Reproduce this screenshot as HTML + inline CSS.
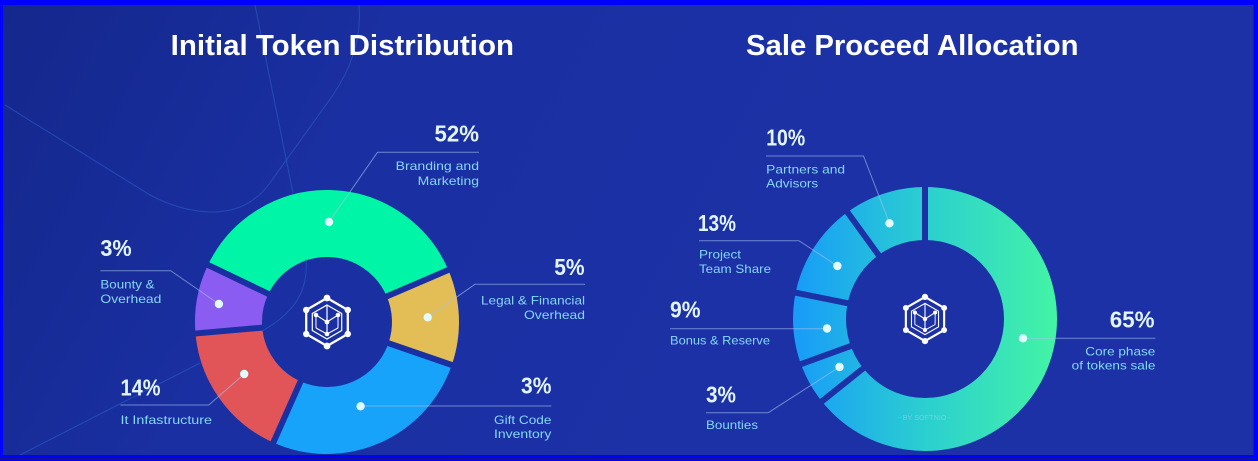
<!DOCTYPE html>
<html>
<head>
<meta charset="utf-8">
<style>
  html, body { margin:0; padding:0; background:#1b30a3; }
  svg { display:block; }
  .t { font-family:"Liberation Sans", sans-serif; font-weight:bold; fill:#ffffff; font-size:29px; }
  .p { font-family:"Liberation Sans", sans-serif; font-weight:bold; fill:#e2f5ff; font-size:23px; }
  .l { font-family:"Liberation Sans", sans-serif; fill:#86d8f6; font-size:12px; }
  .ld { stroke:#a9c3f0; stroke-opacity:0.6; stroke-width:1; fill:none; }
  .dot { fill:#e2fbff; }
  .deco { stroke:#2c60cc; stroke-opacity:0.55; stroke-width:1.1; fill:none; }
</style>
</head>
<body>
<svg width="1258" height="461" viewBox="0 0 1258 461" xmlns="http://www.w3.org/2000/svg">
  <defs>
    <linearGradient id="bg" x1="0" y1="0" x2="700" y2="380" gradientUnits="userSpaceOnUse">
      <stop offset="0" stop-color="#14278c"/>
      <stop offset="0.45" stop-color="#1a2fa1"/>
      <stop offset="1" stop-color="#1b31a5"/>
    </linearGradient>
    <linearGradient id="rg" x1="793" y1="0" x2="1057" y2="0" gradientUnits="userSpaceOnUse">
      <stop offset="0" stop-color="#179bf9"/>
      <stop offset="0.5" stop-color="#2bcfd0"/>
      <stop offset="1" stop-color="#43f4a5"/>
    </linearGradient>
    <g id="icon">
      <polygon points="0,-24 20.8,-12 20.8,12 0,24 -20.8,12 -20.8,-12" fill="none" stroke="#fff" stroke-width="2.3" stroke-linejoin="round"/>
      <polygon points="0,-17 14.7,-8.5 14.7,8.5 0,17 -14.7,8.5 -14.7,-8.5" fill="none" stroke="#fff" stroke-width="1.2"/>
      <line x1="0" y1="-17" x2="0" y2="0" stroke="#fff" stroke-width="1.2"/>
      <line x1="0" y1="0" x2="-11" y2="-7" stroke="#fff" stroke-width="1.2"/>
      <line x1="0" y1="0" x2="11" y2="-7" stroke="#fff" stroke-width="1.2"/>
      <line x1="0" y1="0" x2="0" y2="12" stroke="#fff" stroke-width="1.2"/>
      <line x1="-11" y1="-7" x2="-11" y2="6" stroke="#fff" stroke-width="1"/>
      <line x1="11" y1="-7" x2="11" y2="6" stroke="#fff" stroke-width="1"/>
      <line x1="-11" y1="6" x2="0" y2="12" stroke="#fff" stroke-width="1"/>
      <line x1="11" y1="6" x2="0" y2="12" stroke="#fff" stroke-width="1"/>
      <g fill="#fff">
        <circle cx="0" cy="-24" r="3.4"/>
        <circle cx="20.8" cy="-12" r="3.2"/>
        <circle cx="20.8" cy="12" r="3.2"/>
        <circle cx="0" cy="24" r="3.4"/>
        <circle cx="-20.8" cy="12" r="3.2"/>
        <circle cx="-20.8" cy="-12" r="3.2"/>
        <circle cx="0" cy="0" r="2.4"/>
        <circle cx="-11" cy="-7" r="2.3"/>
        <circle cx="11" cy="-7" r="2.3"/>
        <circle cx="0" cy="12" r="2.3"/>
      </g>
    </g>
  </defs>

  <!-- background -->
  <rect x="0" y="0" width="1258" height="461" fill="url(#bg)"/>

  <!-- decorative lines -->
  <path class="deco" d="M255,5 L293,193"/>
  <path class="deco" d="M359,5 C362,40 350,70 333,95 L272,180 Q250,213 210,212 Q180,211 150,195 L5,105"/>
  <path class="deco" d="M200,363 L20,455"/>

  <!-- LEFT DONUT -->
  <g fill="none" stroke-width="67">
    <path d="M238.17,279.44 A98.5,98.5 0 0 1 417.53,283.20" stroke="#00f6a6"/>
    <path d="M417.53,283.20 A98.5,98.5 0 0 1 420.13,354.07" stroke="#e3bd56"/>
    <path d="M420.13,354.07 A98.5,98.5 0 0 1 286.94,411.98" stroke="#18a3fb"/>
    <path d="M286.94,411.98 A98.5,98.5 0 0 1 228.87,330.59" stroke="#e15559"/>
    <path d="M228.87,330.59 A98.5,98.5 0 0 1 238.17,279.44" stroke="#8a5cf1"/>
  </g>
  <g stroke="url(#bg)" stroke-width="6">
    <line x1="272.89" y1="296.07" x2="203.45" y2="262.80"/>
    <line x1="382.15" y1="298.37" x2="452.92" y2="268.04"/>
    <line x1="383.73" y1="341.54" x2="456.53" y2="366.61"/>
    <line x1="302.60" y1="376.81" x2="271.28" y2="447.15"/>
    <line x1="267.23" y1="327.23" x2="190.52" y2="333.94"/>
  </g>
  <path class="deco" d="M306,259 C308,285 300,310 262,331"/>
  <use href="#icon" transform="translate(327,322)"/>

  <!-- RIGHT DONUT -->
  <circle cx="925" cy="319" r="105.5" fill="none" stroke="url(#rg)" stroke-width="53"/>
  <g stroke="url(#bg)" stroke-width="6">
    <line x1="925" y1="245" x2="925" y2="182"/>
    <line x1="867.17" y1="365.17" x2="817.93" y2="404.47"/>
    <line x1="855.46" y1="344.31" x2="796.26" y2="365.85"/>
    <line x1="852.49" y1="304.24" x2="790.75" y2="291.68"/>
    <line x1="881.50" y1="259.13" x2="844.47" y2="208.17"/>
  </g>
  <use href="#icon" transform="translate(925,319) scale(0.92)"/>
  <text x="898.3" y="420" font-family="Liberation Sans, sans-serif" font-size="7" fill="#a9c6f2" fill-opacity="0.65" textLength="52.4" lengthAdjust="spacingAndGlyphs">- BY SOFTNIO -</text>

  <!-- Titles -->
  <text class="t" x="170.7" y="55" textLength="343.3" lengthAdjust="spacingAndGlyphs">Initial Token Distribution</text>
  <text class="t" x="746" y="55" textLength="332.5" lengthAdjust="spacingAndGlyphs">Sale Proceed Allocation</text>

  <!-- leader lines left -->
  <polyline class="ld" points="329,222 377.5,152.3 479,152.3"/>
  <polyline class="ld" points="218.9,304 170.7,270.7 100.4,270.7"/>
  <polyline class="ld" points="427.7,317.3 475,284.3 585,284.3"/>
  <polyline class="ld" points="244.2,374 208.8,405 120.5,405"/>
  <polyline class="ld" points="360.6,406 551.4,406"/>
  <!-- leader lines right -->
  <polyline class="ld" points="889.5,223.3 863.5,156 766,156"/>
  <polyline class="ld" points="837.4,266 799,240.7 699,240.7"/>
  <polyline class="ld" points="827,328.7 670,328.7"/>
  <polyline class="ld" points="839.5,367 768.2,412.7 706,412.7"/>
  <polyline class="ld" points="1023,338.3 1155.4,338.3"/>

  <!-- dots -->
  <g class="dot">
    <circle cx="329" cy="222" r="4.2"/>
    <circle cx="218.9" cy="304" r="4.2"/>
    <circle cx="427.7" cy="317.3" r="4.2"/>
    <circle cx="244.2" cy="374" r="4.2"/>
    <circle cx="360.6" cy="406.3" r="4.2"/>
    <circle cx="889.5" cy="223.3" r="4.2"/>
    <circle cx="837.4" cy="266" r="4.2"/>
    <circle cx="827" cy="328.5" r="4.2"/>
    <circle cx="839.5" cy="367" r="4.2"/>
    <circle cx="1023" cy="338.3" r="4.2"/>
  </g>

  <!-- percentages -->
  <text class="p" x="434.5" y="141.7" textLength="44.5" lengthAdjust="spacingAndGlyphs">52%</text>
  <text class="p" x="100.4" y="256" textLength="31.3" lengthAdjust="spacingAndGlyphs">3%</text>
  <text class="p" x="554.2" y="275" textLength="30.4" lengthAdjust="spacingAndGlyphs">5%</text>
  <text class="p" x="120.5" y="395.7" textLength="40" lengthAdjust="spacingAndGlyphs">14%</text>
  <text class="p" x="521" y="393.3" textLength="30.4" lengthAdjust="spacingAndGlyphs">3%</text>
  <text class="p" x="766.2" y="145.7" textLength="39" lengthAdjust="spacingAndGlyphs">10%</text>
  <text class="p" x="698" y="231" textLength="38" lengthAdjust="spacingAndGlyphs">13%</text>
  <text class="p" x="670" y="317.3" textLength="30.5" lengthAdjust="spacingAndGlyphs">9%</text>
  <text class="p" x="706" y="402.7" textLength="30" lengthAdjust="spacingAndGlyphs">3%</text>
  <text class="p" x="1109.8" y="327.3" textLength="44.8" lengthAdjust="spacingAndGlyphs">65%</text>

  <!-- labels -->
  <text class="l" x="395.6" y="170" textLength="83.4" lengthAdjust="spacingAndGlyphs">Branding and</text>
  <text class="l" x="417.7" y="185" textLength="61.3" lengthAdjust="spacingAndGlyphs">Marketing</text>
  <text class="l" x="100.4" y="288.5" textLength="54.2" lengthAdjust="spacingAndGlyphs">Bounty &amp;</text>
  <text class="l" x="100.4" y="303" textLength="61" lengthAdjust="spacingAndGlyphs">Overhead</text>
  <text class="l" x="481" y="304.5" textLength="104" lengthAdjust="spacingAndGlyphs">Legal &amp; Financial</text>
  <text class="l" x="524" y="319" textLength="61" lengthAdjust="spacingAndGlyphs">Overhead</text>
  <text class="l" x="120.5" y="424" textLength="91.5" lengthAdjust="spacingAndGlyphs">It Infastructure</text>
  <text class="l" x="494" y="424" textLength="57.4" lengthAdjust="spacingAndGlyphs">Gift Code</text>
  <text class="l" x="494" y="438" textLength="57.4" lengthAdjust="spacingAndGlyphs">Inventory</text>
  <text class="l" x="766.2" y="173.5" textLength="78.9" lengthAdjust="spacingAndGlyphs">Partners and</text>
  <text class="l" x="766.2" y="187.5" textLength="52" lengthAdjust="spacingAndGlyphs">Advisors</text>
  <text class="l" x="699" y="258.5" textLength="42" lengthAdjust="spacingAndGlyphs">Project</text>
  <text class="l" x="699" y="273" textLength="72" lengthAdjust="spacingAndGlyphs">Team Share</text>
  <text class="l" x="670" y="344.5" textLength="100" lengthAdjust="spacingAndGlyphs">Bonus &amp; Reserve</text>
  <text class="l" x="706" y="429" textLength="52" lengthAdjust="spacingAndGlyphs">Bounties</text>
  <text class="l" x="1085.3" y="355.5" textLength="70" lengthAdjust="spacingAndGlyphs">Core phase</text>
  <text class="l" x="1071.7" y="369.5" textLength="83.7" lengthAdjust="spacingAndGlyphs">of tokens sale</text>

  <!-- frame borders -->
  <rect x="0" y="0" width="1258" height="5" fill="#0000ff"/>
  <rect x="0" y="0" width="3" height="461" fill="#0000ff"/>
  <rect x="1" y="5" width="1" height="450" fill="#14168e"/>
  <rect x="1254" y="0" width="4" height="461" fill="#0000ff"/>
  <rect x="1253" y="5" width="1" height="450" fill="#16209a"/>
  <rect x="0" y="455" width="1258" height="6" fill="#0000ff"/>
  <rect x="0" y="458" width="1254" height="1" fill="#14168e"/>
</svg>
</body>
</html>
